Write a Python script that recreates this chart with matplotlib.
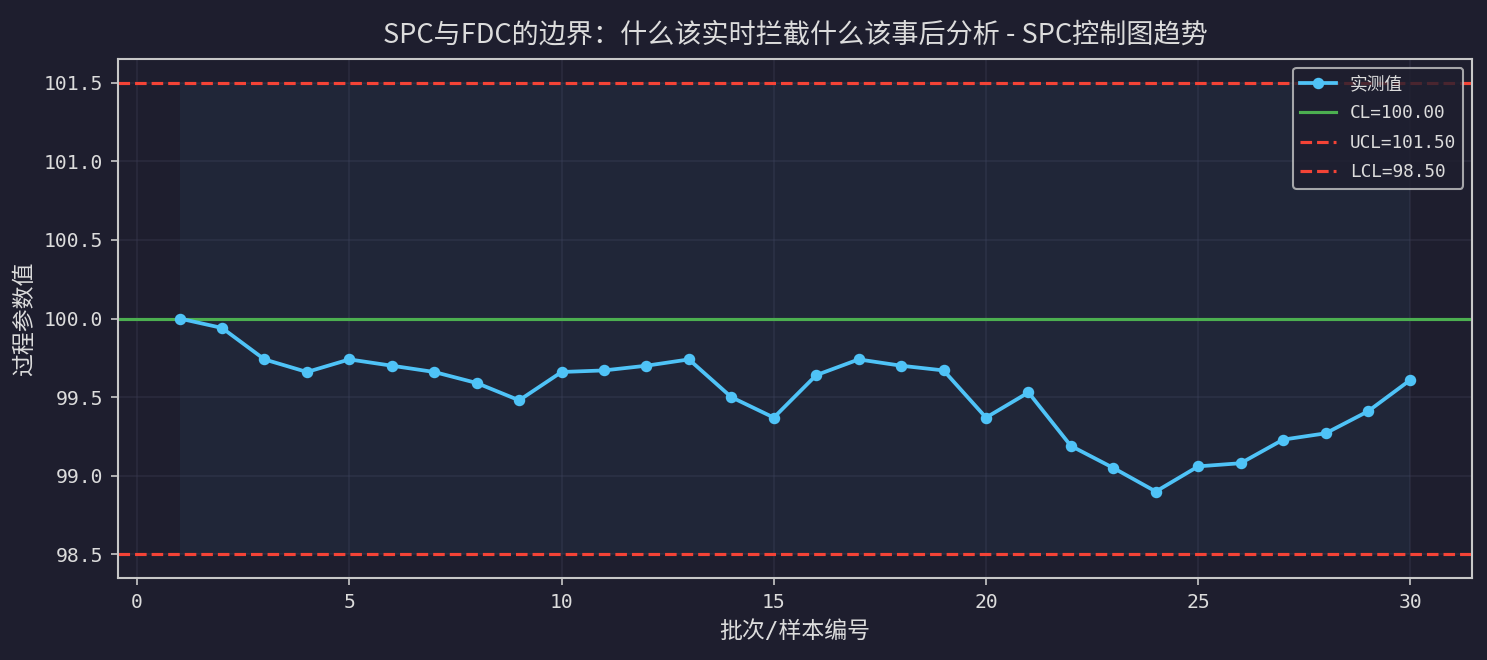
import matplotlib
matplotlib.use("Agg")
import matplotlib.pyplot as plt
import numpy as np

plt.rcParams['font.family'] = ['DejaVu Sans Mono', 'Noto Sans CJK SC']
plt.rcParams['axes.unicode_minus'] = False

batches = list(range(1, 31))
measured = [100.00, 99.94, 99.74, 99.66, 99.74, 99.70, 99.66, 99.59, 99.48, 99.66,
            99.67, 99.70, 99.74, 99.50, 99.37, 99.64, 99.74, 99.70, 99.67, 99.37,
            99.53, 99.19, 99.05, 98.90, 99.06, 99.08, 99.23, 99.27, 99.41, 99.61]
CL = 100.00
UCL = 101.50
LCL = 98.50

title = "SPC与FDC的边界：什么该实时拦截什么该事后分析 - SPC控制图趋势"
xlabel = "批次/样本编号"
ylabel = "过程参数值"

bg = '#1e1e2e'
txt = '#dcdcdc'

fig = plt.figure(figsize=(1487/150, 660/150), dpi=150, facecolor=bg)
ax = fig.add_axes([0.0794, 0.1242, 0.9105, 0.7864])
ax.set_facecolor(bg)

ax.fill_between(batches, LCL, UCL, color='#4fc3f7', alpha=0.05, linewidth=0)
ax.plot(batches, measured, color='#4fc3f7', linewidth=1.8, marker='o', markersize=4.5,
        label='实测值', zorder=5)
ax.axhline(CL, color='#4caf50', linewidth=1.5, label=f'CL={CL:.2f}')
ax.axhline(UCL, color='#f44336', linewidth=1.5, linestyle='--', label=f'UCL={UCL:.2f}')
ax.axhline(LCL, color='#f44336', linewidth=1.5, linestyle='--', label=f'LCL={LCL:.2f}')

ax.grid(True, color='#3a3a50', alpha=0.45, linewidth=0.8)
ax.set_axisbelow(True)

for s in ax.spines.values():
    s.set_color('#c8c8c8')
    s.set_linewidth(1.0)
ax.tick_params(colors='#c8c8c8', labelcolor=txt, labelsize=9.5)

ax.set_title(title, color=txt, fontsize=13, pad=8,
             family=['Noto Sans CJK SC', 'DejaVu Sans Mono'])
ax.set_xlabel(xlabel, color=txt, fontsize=11)
ax.set_ylabel(ylabel, color=txt, fontsize=11)

leg = ax.legend(loc='upper right', fontsize=8.5, facecolor=bg, edgecolor='#c8c8c8',
                framealpha=0.8, labelcolor=txt, labelspacing=0.65)

fig.savefig('out.png', dpi=150, facecolor=bg)
